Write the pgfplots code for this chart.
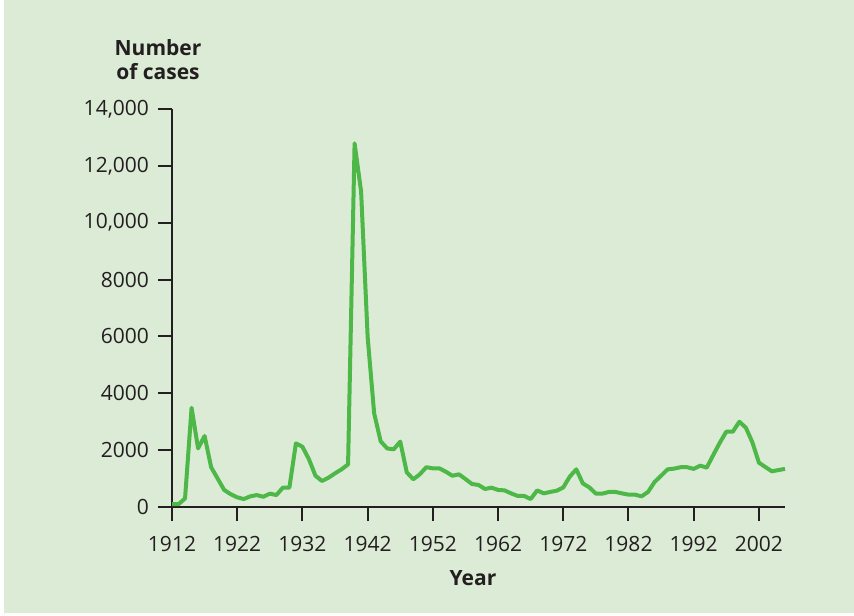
\documentclass[border=0pt]{standalone}
\usepackage{fontspec}
\setmainfont{Open Sans}
\usepackage{pgfplots}
\pgfplotsset{compat=1.18}
\definecolor{bg}{HTML}{DCEBD6}
\definecolor{ln}{HTML}{4DB848}
\definecolor{ink}{HTML}{231F20}
\pgfplotstableread{
year cases
1912 100
1913 100
1914 300
1915 3490
1916 2060
1917 2500
1918 1400
1919 1000
1920 600
1921 450
1922 340
1923 280
1924 375
1925 420
1926 360
1927 470
1928 420
1929 680
1930 680
1931 2240
1932 2120
1933 1680
1934 1100
1935 915
1936 1030
1937 1185
1938 1325
1939 1500
1940 12790
1941 11090
1942 5990
1943 3295
1944 2310
1945 2060
1946 2030
1947 2300
1948 1220
1949 975
1950 1150
1951 1400
1952 1360
1953 1360
1954 1240
1955 1100
1956 1150
1957 985
1958 810
1959 775
1960 635
1961 680
1962 600
1963 585
1964 480
1965 390
1966 390
1967 280
1968 585
1969 480
1970 530
1971 575
1972 690
1973 1070
1974 1325
1975 830
1976 690
1977 470
1978 470
1979 530
1980 530
1981 480
1982 435
1983 435
1984 375
1985 530
1986 880
1987 1100
1988 1325
1989 1350
1990 1400
1991 1400
1992 1340
1993 1455
1994 1385
1995 1830
1996 2260
1997 2650
1998 2650
1999 3000
2000 2790
2001 2275
2002 1560
2003 1405
2004 1255
2005 1300
2006 1340
}\datatable
\begin{document}
\begin{tikzpicture}
\useasboundingbox (0,0) rectangle (427pt,-307.5pt);
\fill[white] (0,0) rectangle (427pt,-307.5pt);
\fill[bg] (2pt,0) rectangle (427pt,-306.5pt);
\begin{axis}[
  at={(86pt,-253.5pt)}, anchor=south west,
  scale only axis, width=306.5pt, height=199pt,
  xmin=1912, xmax=2006, ymin=0, ymax=14000,
  scaled y ticks=false, scaled x ticks=false,
  axis lines=left, axis line style={-, draw=ink, line width=1pt},
  tick align=outside, major tick length=7pt,
  tick style={draw=ink, line width=1pt},
  xtick={1912,1922,...,2002},
  xticklabels={1912,1922,1932,1942,1952,1962,1972,1982,1992,2002},
  ytick={0,2000,...,14000},
  yticklabels={0,2000,4000,6000,8000,{10,000},{12,000},{14,000}},
  tick label style={font=\fontsize{10.5}{12.6}\selectfont, text=ink},
  xticklabel style={yshift=-4pt},
  yticklabel style={xshift=-1pt},
  clip=false,
]
\addplot[ln, line width=2pt, line join=round] table[x=year, y=cases] {\datatable};
\end{axis}
\node[align=center, text=ink, font=\fontsize{10.5}{11.7}\selectfont\bfseries, anchor=base] at (79pt,-39.6pt) {Number\\of cases};
\node[text=ink, font=\fontsize{10.5}{12.6}\selectfont\bfseries, anchor=base] at (236.5pt,-292.5pt) {Year};
\end{tikzpicture}
\end{document}
